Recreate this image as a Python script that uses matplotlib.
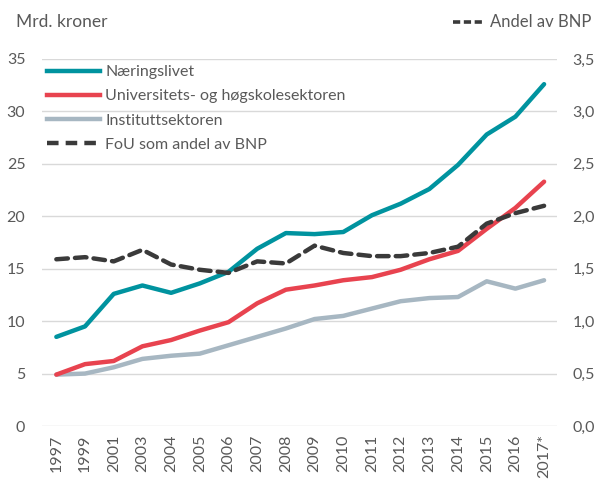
import matplotlib
matplotlib.use("Agg")
import matplotlib.pyplot as plt
from matplotlib.lines import Line2D

plt.rcParams['font.family'] = ['Lato', 'DejaVu Sans']

years = ["1997", "1999", "2001", "2003", "2004", "2005", "2006", "2007", "2008",
         "2009", "2010", "2011", "2012", "2013", "2014", "2015", "2016", "2017*"]
naeringslivet = [8.5, 9.5, 12.6, 13.4, 12.7, 13.6, 14.7, 16.9, 18.4, 18.3, 18.5, 20.1,
                 21.2, 22.6, 24.9, 27.8, 29.5, 32.6]
universitet = [4.9, 5.9, 6.2, 7.6, 8.2, 9.1, 9.9, 11.7, 13.0, 13.4, 13.9, 14.2,
               14.9, 15.9, 16.7, 18.8, 20.8, 23.3]
institutt = [4.9, 5.0, 5.6, 6.4, 6.7, 6.9, 7.7, 8.5, 9.3, 10.2, 10.5, 11.2,
             11.9, 12.2, 12.3, 13.8, 13.1, 13.9]
andel_bnp = [1.59, 1.61, 1.57, 1.68, 1.54, 1.49, 1.46, 1.57, 1.55, 1.72, 1.65, 1.62,
             1.62, 1.65, 1.71, 1.93, 2.03, 2.10]
left_ticks = [0, 5, 10, 15, 20, 25, 30, 35]
right_ticks = [0.0, 0.5, 1.0, 1.5, 2.0, 2.5, 3.0, 3.5]
series_names = ["Næringslivet", "Universitets- og høgskolesektoren", "Instituttsektoren",
                "FoU som andel av BNP"]

c_teal = "#00939F"
c_red = "#E8434F"
c_gray = "#A7B7C2"
c_dash = "#3A3A3A"
txt = "#595959"

fs = 11.5
fig = plt.figure(figsize=(5.96, 4.79), dpi=100)
ax = fig.add_axes([42/596, 53/479, 515/596, 367/479])
ax2 = ax.twinx()

x = list(range(len(years)))
lw = 3.2
ax.plot(x, naeringslivet, color=c_teal, lw=lw, solid_capstyle='round', zorder=3)
ax.plot(x, universitet, color=c_red, lw=lw, solid_capstyle='round', zorder=3)
ax.plot(x, institutt, color=c_gray, lw=lw, solid_capstyle='round', zorder=2)
ax2.plot(x, andel_bnp, color=c_dash, lw=lw, ls=(0, (2.6, 1.6)), dash_capstyle='round', zorder=4)

ax.set_ylim(0, 35)
ax2.set_ylim(0, 3.5)
ax.set_xlim(-0.5, 17.45)
ax.set_yticks(left_ticks)
ax.set_yticklabels([str(t) for t in left_ticks])
ax2.set_yticks(right_ticks)
ax2.set_yticklabels([f"{t:.1f}".replace('.', ',') for t in right_ticks])
ax.set_xticks(x)
ax.set_xticklabels(years, rotation=90)

ax.grid(axis='y', color="#D9D9D9", lw=1)
ax.set_axisbelow(True)
for a in (ax, ax2):
    for s in a.spines.values():
        s.set_visible(False)
    a.tick_params(length=0, labelsize=fs, labelcolor=txt)
ax.tick_params(axis='y', pad=12)
ax2.tick_params(axis='y', pad=11)
ax.tick_params(axis='x', pad=6)

handles = [Line2D([], [], color=c_teal, lw=lw),
           Line2D([], [], color=c_red, lw=lw),
           Line2D([], [], color=c_gray, lw=lw),
           Line2D([], [], color=c_dash, lw=lw, ls=(0, (2.6, 1.6)))]
leg = ax.legend(handles, series_names, loc='upper left',
                bbox_to_anchor=(40/596, 1 - 58/479), bbox_transform=fig.transFigure,
                frameon=False, fontsize=fs, handlelength=3.3, handletextpad=0.35,
                labelspacing=0.62, labelcolor=txt, borderaxespad=0, borderpad=0.45)

fig.text(16/596, 1 - 22/479, "Mrd. kroner", fontsize=12.5, color=txt, va='center', ha='left')
fig.text(591/596, 1 - 22/479, "Andel av BNP", fontsize=12, color=txt, va='center', ha='right')
fig.add_artist(Line2D([453/596, 482/596], [1 - 22/479, 1 - 22/479], color=c_dash, lw=2.6,
                      ls=(0, (2.0, 1.0)), transform=fig.transFigure))

fig.savefig("out.png", dpi=100)
